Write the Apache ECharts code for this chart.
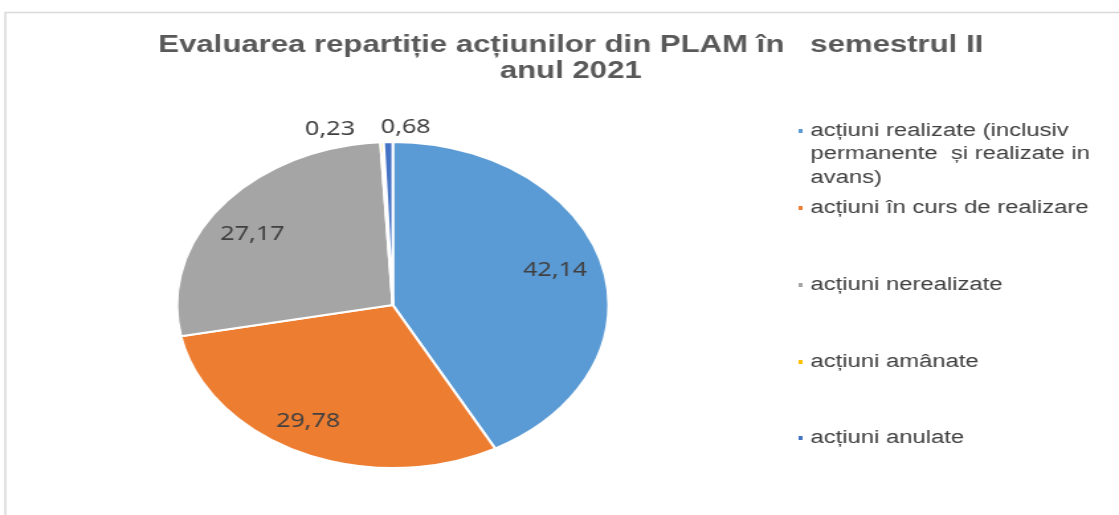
<!DOCTYPE html>
<html><head><meta charset="utf-8">
<script src="https://cdn.jsdelivr.net/npm/echarts@6/dist/echarts.min.js"></script>
<style>
html,body{margin:0;padding:0;overflow:hidden;background:#fff;width:1119px;height:515px}
#c{width:845px;height:515px;transform:scaleX(1.3243);transform-origin:0 0;}
</style>
</head><body><div id="c"></div>
<script>
const titleText = 'Evaluarea repartiție acțiunilor din PLAM în   semestrul II\nanul 2021';
const categories = [
  'acțiuni realizate (inclusiv permanente și realizate in avans)',
  'acțiuni în curs de realizare',
  'acțiuni nerealizate',
  'acțiuni amânate',
  'acțiuni anulate'
];
const legendLabels = [
  'acțiuni realizate (inclusiv\npermanente  și realizate in\navans)',
  'acțiuni în curs de realizare',
  'acțiuni nerealizate',
  'acțiuni amânate',
  'acțiuni anulate'
];
const values = [42.14, 29.78, 27.17, 0.23, 0.68];
const colors = ['#5B9BD5', '#ED7D31', '#A5A5A5', '#FFC000', '#4472C4'];

const fmt = v => v.toFixed(2).replace('.', ',');
const center = [296.6, 305];
const R = 163;
const legendCenters = [131, 208, 285, 362, 438];
const labelOffsets = [[-2, -3], [-9, 0], [-4.5, 8], [-41, -47], [12.5, -49]];

const chart = echarts.init(document.getElementById('c'));
const legends = categories.map((name, i) => {
  const lines = legendLabels[i].split('\n');
  // pad with empty lines above so that the first line sits level with the icon
  const padded = Array(lines.length - 1).fill(' ').concat(lines).join('\n');
  const n = 2 * lines.length - 1;
  return {
    orient: 'vertical', left: 601,
    top: legendCenters[i] - n * 23.5 / 2,
    padding: 0, itemWidth: 5, itemHeight: 6, icon: 'rect',
    selectedMode: false,
    data: [name],
    formatter: () => padded,
    textStyle: {fontSize: 18, color: '#404040', fontFamily: 'Liberation Sans, Arial, sans-serif',
      lineHeight: 23.5}
  };
});

chart.setOption({
  animation: false,
  backgroundColor: '#fff',
  title: {
    text: titleText, left: 431, top: 33, textAlign: 'center', padding: 0,
    textStyle: {fontSize: 23.5, fontWeight: 'bold', color: '#595959', lineHeight: 26,
      fontFamily: 'Liberation Sans Narrow, Arial Narrow, Liberation Sans, sans-serif'}
  },
  legend: legends,
  graphic: [{type: 'rect', shape: {x: 4, y: 12.5, width: 2000, height: 1000},
    style: {fill: 'none', stroke: '#d9d9d9', lineWidth: 1.5}, silent: true}],
  series: [
    {
      type: 'pie', center: center, radius: R, startAngle: 90, clockwise: true,
      avoidLabelOverlap: false,
      label: {show: false}, labelLine: {show: false},
      itemStyle: {borderColor: '#fff', borderWidth: 2},
      emphasis: {disabled: true},
      data: categories.map((n, i) => ({name: n, value: values[i], itemStyle: {color: colors[i]}}))
    },
    {
      type: 'pie', center: center, radius: [88, R], startAngle: 90, clockwise: true,
      silent: true, avoidLabelOverlap: false, z: 5,
      labelLine: {show: false},
      emphasis: {disabled: true},
      label: {show: true, position: 'inside', fontSize: 19, color: '#404040',
        fontFamily: 'Noto Sans, Open Sans, sans-serif', formatter: p => fmt(p.value)},
      data: categories.map((n, i) => ({
        name: n, value: values[i],
        itemStyle: {color: 'rgba(0,0,0,0)', borderWidth: 0},
        label: {offset: labelOffsets[i]}
      }))
    }
  ]
});
</script>
</body></html>
